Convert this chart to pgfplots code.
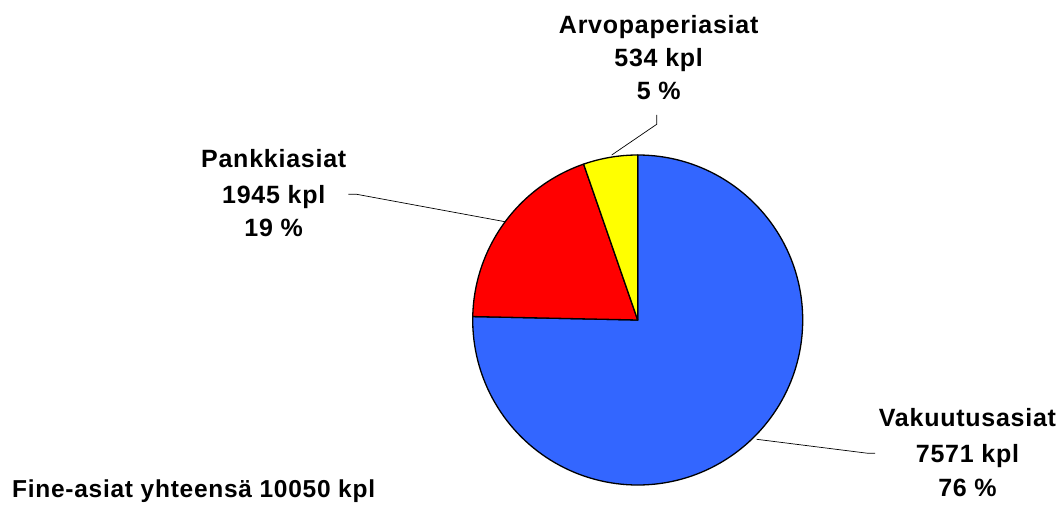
\documentclass[border=0pt]{standalone}
\usepackage{fontspec}
\setmainfont{Liberation Sans}[LetterSpace=3]
\usepackage{pgfplots}
\usepackage{pgfplotstable}
\pgfplotsset{compat=1.18}
\definecolor{pieblue}{HTML}{3366FF}
\definecolor{piered}{HTML}{FF0000}
\definecolor{pieyellow}{HTML}{FFFF00}
\pgfplotstableread{
name value
Vakuutusasiat 7571
Pankkiasiat 1945
Arvopaperiasiat 534
}\datatable
\begin{document}
\begin{tikzpicture}
\pgfplotstablegetelem{0}{value}\of\datatable \let\va\pgfplotsretval
\pgfplotstablegetelem{1}{value}\of\datatable \let\vb\pgfplotsretval
\pgfplotstablegetelem{2}{value}\of\datatable \let\vc\pgfplotsretval
\pgfmathsetmacro{\total}{\va+\vb+\vc}
\pgfmathsetmacro{\aA}{90}
\pgfmathsetmacro{\aB}{\aA-360*(\va/\total)}
\pgfmathsetmacro{\aC}{\aB-360*(\vb/\total)}
\pgfmathsetmacro{\aD}{\aC-360*(\vc/\total)}
\begin{axis}[
  width=1060pt, height=507pt, scale only axis,
  xmin=0, xmax=1060, ymin=0, ymax=507,
  hide axis, clip=false,
]
\path (axis cs:0,0) rectangle (axis cs:1060,507);
\filldraw[fill=pieblue, draw=black, line width=1.3pt, line join=round]
  (axis cs:637.7,187) -- ++(\aA:165pt) arc[start angle=\aA, end angle=\aB, radius=165pt] -- cycle;
\filldraw[fill=piered, draw=black, line width=1.3pt, line join=round]
  (axis cs:637.7,187) -- ++(\aB:165pt) arc[start angle=\aB, end angle=\aC, radius=165pt] -- cycle;
\filldraw[fill=pieyellow, draw=black, line width=1.3pt, line join=round]
  (axis cs:637.7,187) -- ++(\aC:165pt) arc[start angle=\aC, end angle=\aD, radius=165pt] -- cycle;
% leader lines
\draw[line width=0.7pt] (axis cs:656.7,392) -- (axis cs:656.7,382.7) -- (axis cs:611.7,352);
\draw[line width=0.7pt] (axis cs:348.3,312.7) -- (axis cs:356.7,312.7) -- (axis cs:505,285.3);
\draw[line width=0.7pt] (axis cs:756.7,67.7) -- (axis cs:868,53.7) -- (axis cs:875,53.7);
% labels
\begin{scope}[every node/.style={font=\fontsize{25}{27}\selectfont\bfseries, anchor=base, inner sep=0pt}]
\node at (axis cs:658.7,473.7) {Arvopaperiasiat};
\node at (axis cs:658.7,440.3) {534 kpl};
\node at (axis cs:658.7,407) {5 \%};
\node at (axis cs:273.7,339) {Pankkiasiat};
\node at (axis cs:273.7,304) {1945 kpl};
\node at (axis cs:273.7,270.3) {19 \%};
\node at (axis cs:967.5,80.7) {Vakuutusasiat};
\node at (axis cs:967.5,45) {7571 kpl};
\node at (axis cs:967.5,11) {76 \%};
\end{scope}
\node[font=\fontsize{24.5}{26}\selectfont\bfseries, anchor=base west, inner sep=0pt] at (axis cs:12,9.7) {Fine-asiat yhteensä 10050 kpl};
\end{axis}
\end{tikzpicture}
\end{document}
